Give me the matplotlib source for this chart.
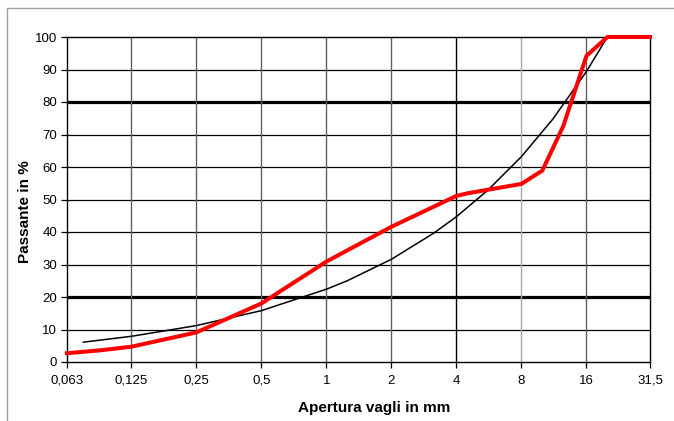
import matplotlib

matplotlib.use("Agg")

import matplotlib.pyplot as plt
from matplotlib.patches import Rectangle

# sieve sizes (mm) shown on the x axis
tick_sizes = [0.063, 0.125, 0.25, 0.5, 1, 2, 4, 8, 16, 31.5]
tick_labels = ["0,063", "0,125", "0,25", "0,5", "1", "2", "4", "8", "16", "31,5"]

# measured grading (red)
red_size = [0.063, 0.09, 0.125, 0.25, 0.5, 1, 2, 4, 4.5, 8, 10, 12.5, 16, 20, 31.5]
red_pass = [2.7, 3.6, 4.7, 9.1, 18.0, 30.9, 41.6, 51.1, 51.9, 54.8, 58.9, 72.6, 94.2, 100, 100]

# reference curve (black)
ref_size = [0.075, 0.125, 0.25, 0.5, 1, 1.25, 2, 3.15, 4, 5.6, 8, 11.2, 16, 20, 31.5]
ref_pass = [6.1, 7.9, 11.2, 15.8, 22.4, 25.0, 31.6, 39.7, 44.7, 52.9, 63.2, 74.8, 89.4, 100, 100]

y_ticks = list(range(0, 101, 10))
thick_y = [20, 80]


def main() -> None:
    plt.rcParams.update({"font.family": "Liberation Sans", "font.size": 9})
    fig = plt.figure(figsize=(6.74, 4.21), dpi=100)
    ax = fig.add_axes([67 / 674, 1 - 362 / 421, 583 / 674, 325 / 421])

    # outer frame of the chart object
    fig.patches.append(
        Rectangle((7 / 674, -0.1), 1.2, 1 - 8 / 421 + 0.1, transform=fig.transFigure,
                  fill=False, edgecolor="#a0a0a0", lw=1.0)
    )

    ax.set_xscale("log", base=2)
    ax.set_xlim(tick_sizes[0], tick_sizes[-1])
    ax.set_ylim(0, 100)

    # grid
    for y in y_ticks[1:-1]:
        lw = 2.3 if y in thick_y else 0.9
        ax.axhline(y, color="black", lw=lw, zorder=1)
    for s in tick_sizes[1:-1]:
        if s == 4:
            c = "black"
        elif s == 8:
            c = "#a8a8a8"
        else:
            c = "#606060"
        ax.axvline(s, color=c, lw=1.0, zorder=1)

    ax.plot(ref_size, ref_pass, color="black", lw=1.1, zorder=3)
    ax.plot(red_size, red_pass, color="#ff0000", lw=2.9, zorder=4, clip_on=False,
            solid_joinstyle="round")

    ax.set_xticks(tick_sizes)
    ax.set_xticklabels(tick_labels)
    ax.minorticks_off()
    ax.set_yticks(y_ticks)
    ax.tick_params(axis="both", direction="out", length=4, width=0.9, labelsize=9.5,
                   colors="black")
    ax.tick_params(axis="x", pad=5)
    ax.tick_params(axis="y", pad=3)
    for sp in ax.spines.values():
        sp.set_linewidth(1.0)
        sp.set_color("black")

    fig.text(374 / 674, 1 - 408 / 421, "Apertura vagli in mm", ha="center", va="center",
             fontsize=11, fontweight="bold")
    fig.text(25 / 674, 1 - 212 / 421, "Passante in %", ha="center", va="center",
             rotation=90, fontsize=11, fontweight="bold")

    fig.savefig("out.png", dpi=100)


if __name__ == "__main__":
    main()
